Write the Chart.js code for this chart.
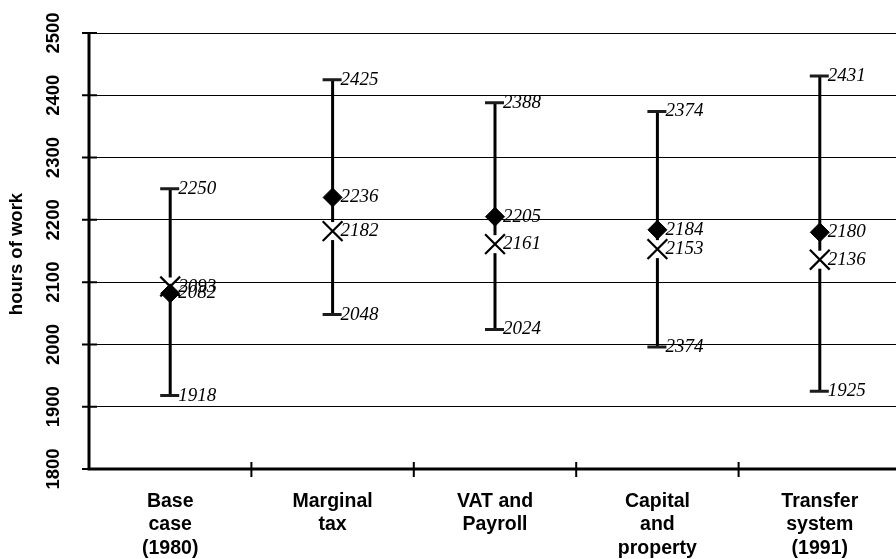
<!DOCTYPE html>
<html><head><meta charset="utf-8">
<script src="https://cdn.jsdelivr.net/npm/chart.js@4/dist/chart.umd.min.js"></script>
<style>html,body{margin:0;padding:0;background:#fff;overflow:hidden}#wrap{width:896px;height:559px;overflow:hidden;position:relative}canvas{display:block}</style>
</head><body><div id="wrap"><canvas id="c" width="902" height="559" style="width:902px;height:559px"></canvas></div>
<script>
const categories = [["Base","case","(1980)"],["Marginal","tax"],["VAT and","Payroll"],["Capital","and","property"],["Transfer","system","(1991)"]];
const highValues = [2250, 2425, 2388, 2374, 2431];
const lowValues = [1918, 2048, 2024, 1996, 1925];
const diamondValues = [2082, 2236, 2205, 2184, 2180];
const crossValues = [2093, 2182, 2161, 2153, 2136];
const highLabels = ["2250", "2425", "2388", "2374", "2431"];
const lowLabels = ["1918", "2048", "2024", "2374", "1925"];
const diamondLabels = ["2082", "2236", "2205", "2184", "2180"];
const crossLabels = ["2093", "2182", "2161", "2153", "2136"];
const yMin = 1800, yMax = 2500, yStep = 100;
const yTitle = "hours of work";

const SANS = '"Liberation Sans", Arial, sans-serif';
const SERIF = '"Liberation Serif", "Times New Roman", serif';

const customPlugin = {
  id: 'custom',
  beforeDatasetsDraw(chart) {
    const {ctx, scales: {x, y}} = chart;
    ctx.save();
    categories.forEach((c, i) => {
      const px = x.getPixelForValue(i);
      const yh = y.getPixelForValue(highValues[i]);
      const yl = y.getPixelForValue(lowValues[i]);
      ctx.strokeStyle = '#000';
      ctx.lineWidth = 3;
      ctx.beginPath(); ctx.moveTo(px, yh); ctx.lineTo(px, yl); ctx.stroke();
      ctx.strokeStyle = '#1c1c1c';
      ctx.beginPath();
      ctx.moveTo(px - 10, yh); ctx.lineTo(px + 9, yh);
      ctx.moveTo(px - 10, yl); ctx.lineTo(px + 9, yl);
      ctx.stroke();
      const yc = y.getPixelForValue(crossValues[i]);
      ctx.fillStyle = '#fff';
      ctx.fillRect(px - 3, yc - 9, 6, 18);
    });
    ctx.restore();
  },
  afterDatasetsDraw(chart) {
    const {ctx, scales: {x, y}} = chart;
    ctx.save();
    ctx.font = 'italic 19px ' + SERIF;
    ctx.fillStyle = '#000';
    ctx.textAlign = 'left';
    ctx.textBaseline = 'middle';
    categories.forEach((c, i) => {
      const px = x.getPixelForValue(i) + 8;
      ctx.fillText(highLabels[i], px, y.getPixelForValue(highValues[i]));
      ctx.fillText(lowLabels[i], px, y.getPixelForValue(lowValues[i]));
      ctx.fillText(diamondLabels[i], px, y.getPixelForValue(diamondValues[i]));
      ctx.fillText(crossLabels[i], px, y.getPixelForValue(crossValues[i]));
    });
    ctx.restore();
  },
  afterDraw(chart) {
    const {ctx, chartArea: a, scales: {x, y}} = chart;
    ctx.save();
    ctx.strokeStyle = '#000';
    ctx.lineWidth = 3;
    ctx.beginPath();
    ctx.moveTo(a.left, a.top - 1); ctx.lineTo(a.left, a.bottom + 1.5);
    ctx.moveTo(a.left - 1.5, a.bottom); ctx.lineTo(a.right + 2, a.bottom);
    ctx.stroke();
    ctx.lineWidth = 2;
    ctx.beginPath();
    for (let v = yMin; v <= yMax; v += yStep) {
      const py = y.getPixelForValue(v);
      ctx.moveTo(a.left - 7, py); ctx.lineTo(a.left + 8, py);
    }
    const n = categories.length;
    for (let i = 1; i < n; i++) {
      const px = (x.getPixelForValue(i - 1) + x.getPixelForValue(i)) / 2;
      ctx.moveTo(px, a.bottom - 7); ctx.lineTo(px, a.bottom + 8);
    }
    ctx.stroke();
    ctx.fillStyle = '#000';
    ctx.font = 'bold 18.5px ' + SANS;
    ctx.textAlign = 'center';
    ctx.textBaseline = 'middle';
    for (let v = yMin; v <= yMax; v += yStep) {
      const py = y.getPixelForValue(v);
      ctx.save();
      ctx.translate(54, py);
      ctx.rotate(-Math.PI / 2);
      ctx.fillText(String(v), 0, 0);
      ctx.restore();
    }
    ctx.save();
    ctx.translate(17, (a.top + a.bottom) / 2 + 3);
    ctx.rotate(-Math.PI / 2);
    ctx.fillText(yTitle, 0, 0);
    ctx.restore();
    ctx.restore();
  }
};

new Chart(document.getElementById('c'), {
  type: 'line',
  data: {
    labels: categories,
    datasets: [
      {
        label: 'cross',
        data: crossValues,
        showLine: false,
        pointStyle: 'crossRot',
        pointRadius: 14,
        pointHoverRadius: 14,
        borderColor: '#000',
        backgroundColor: '#000',
        pointBorderWidth: 2.2
      },
      {
        label: 'diamond',
        data: diamondValues,
        showLine: false,
        pointStyle: 'rectRot',
        pointRadius: 9.5,
        pointHoverRadius: 9.5,
        borderColor: '#000',
        backgroundColor: '#000',
        pointBorderWidth: 1
      }
    ]
  },
  options: {
    responsive: false,
    animation: false,
    events: [],
    layout: { autoPadding: false, padding: { top: 33, right: 1, left: 0, bottom: 0 } },
    plugins: { legend: { display: false }, tooltip: { enabled: false } },
    scales: {
      x: {
        offset: true,
        grid: { display: false, drawTicks: false },
        border: { display: false },
        ticks: {
          autoSkip: false, maxRotation: 0, minRotation: 0,
          padding: 21,
          color: '#000',
          font: { family: SANS, size: 19.5, weight: 'bold', lineHeight: 1.2 }
        },
        afterFit(s) { s.height = 90; s.paddingLeft = 0; s.paddingRight = 0; }
      },
      y: {
        min: yMin, max: yMax,
        ticks: { stepSize: yStep, display: false },
        grid: { color: '#000', lineWidth: 1, drawTicks: false },
        border: { display: false },
        afterFit(s) { s.width = 89; s.paddingTop = 0; s.paddingBottom = 0; }
      }
    }
  },
  plugins: [customPlugin]
});
</script>
</body></html>
